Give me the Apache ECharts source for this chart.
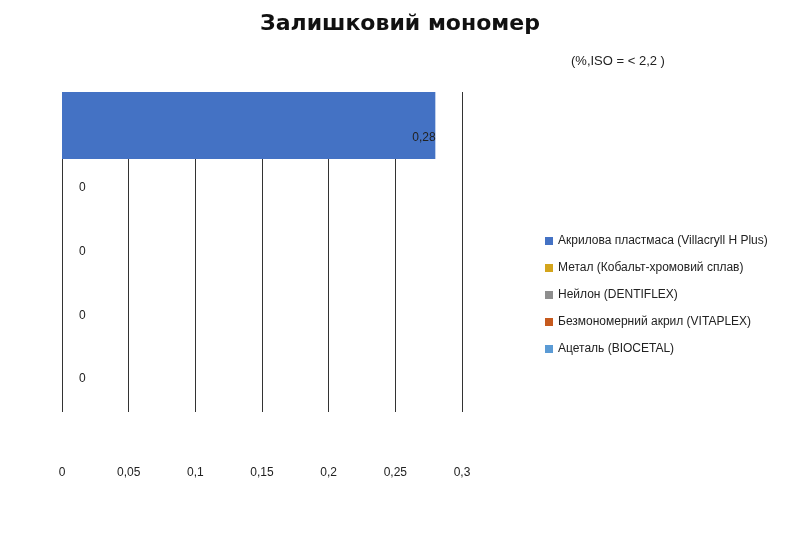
<!DOCTYPE html>
<html><head><meta charset="utf-8">
<script src="https://cdn.jsdelivr.net/npm/echarts@6/dist/echarts.min.js"></script>
<style>html,body{margin:0;background:#fff}#c{width:800px;height:533px}</style>
</head><body><div id="c"></div>
<script>
const categories = ['Акрилова пластмаса (Villacryll H Plus)','Метал (Кобальт-хромовий сплав)','Нейлон (DENTIFLEX)','Безмономерний акрил (VITAPLEX)','Ацеталь (BIOCETAL)'];
const values = [0.28, 0, 0, 0, 0];
const ticks = ['0','0,05','0,1','0,15','0,2','0,25','0,3'];
const barColors = ['#4472C4','#D4A51C','#8E8E8E','#C65A1E','#1E2E3C'];
const legendColors = ['#4472C4','#D4A51C','#8E8E8E','#C65A1E','#5B9BD5'];
const series = categories.map((name,i)=>({
  name, type:'bar', stack:'a', barWidth:70,
  itemStyle:{color:barColors[i]},
  label:{show:true, position: values[i]>0 ? 'right':'insideLeft', offset: values[i]>0?[-28,12]:[12,0],
    formatter:p=>String(p.value).replace('.',','), color:'#222', fontSize:12},
  data: categories.map((c,j)=> j===i ? values[i] : '-')
}));
const chart = echarts.init(document.getElementById('c'));
chart.setOption({
  animation:false,
  title:[{text:'Залишковий мономер', left:'center', top:8, textStyle:{fontSize:22, fontWeight:'bold', color:'#111', fontFamily:'DejaVu Sans'}},
         {text:'(%,ISO = < 2,2 )', left:566, top:50, textStyle:{fontSize:13, fontWeight:'normal', color:'#222'}}],
  legend:{orient:'vertical', left:540, top:230, itemWidth:8, itemHeight:8, itemGap:15, icon:'rect',
    textStyle:{fontSize:12, color:'#222'},
    data: categories.map((n,i)=>({name:n, itemStyle:{color:legendColors[i]}}))},
  grid:{left:62, top:92, width:400, height:320},
  xAxis:{type:'value', min:0, max:0.3, interval:0.05,
    axisLabel:{formatter:v=>ticks[Math.round(v/0.05)], color:'#222', fontSize:12, margin:55},
    splitLine:{lineStyle:{color:'#333'}}, axisLine:{show:false}, axisTick:{show:false}},
  yAxis:{type:'category', inverse:true, data:categories, axisLabel:{show:false}, axisTick:{show:false}, axisLine:{show:false}},
  series
});
</script></body></html>
